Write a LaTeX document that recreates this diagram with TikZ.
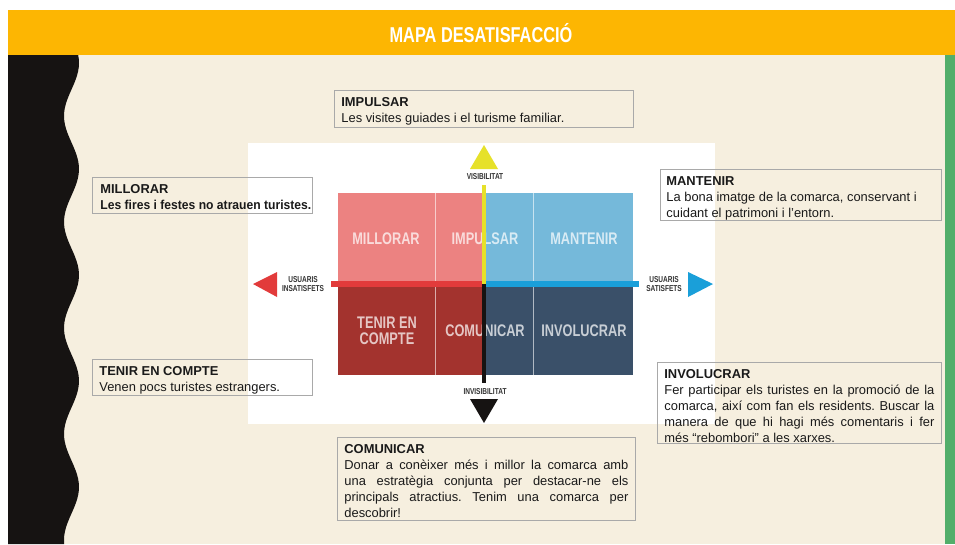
\documentclass[tikz,border=0pt]{standalone}
\usepackage{fontspec}
\setmainfont{Liberation Sans}
\newfontfamily\condfont[FakeStretch=0.76]{Liberation Sans}
\newfontfamily\narrowfont[FakeStretch=0.94]{Liberation Sans}
\usetikzlibrary{positioning}
\frenchspacing

\newcommand{\fillline}[1]{\makebox[\linewidth][s]{\spaceskip=0pt\relax #1}}
\newcommand{\boxbody}[3]{\parbox[t][#1][t]{#2}{\raggedright\rule{0pt}{16.5pt}#3}}

\tikzset{
  infobox/.style={draw=boxGrey, line width=0.8pt, anchor=north west, inner xsep=7pt, inner ysep=0pt,
    text=inkDark, font=\fontsize{12.9}{16}\selectfont},
  celllabel/.style={text=white, text opacity=0.72, align=center, inner sep=0pt,
    font=\condfont\bfseries\fontsize{16.8}{16.5}\selectfont},
  axislabel/.style={text=axisInk, align=center, inner sep=0pt,
    font=\condfont\bfseries\fontsize{8.6}{8.6}\selectfont},
  axisline/.style={line width=5.5pt},
}

\begin{document}
\begin{tikzpicture}[x=1pt,y=-1pt]
\definecolor{bannerYellow}{HTML}{FDB602}
\definecolor{paperCream}{HTML}{F6EFDF}
\definecolor{stripGreen}{HTML}{52AE6A}
\definecolor{stripBlack}{HTML}{161312}
\definecolor{boxGrey}{HTML}{A9A9A9}
\definecolor{inkDark}{HTML}{1A1A1A}
\definecolor{axisInk}{HTML}{333333}
\definecolor{cellPink}{HTML}{EC8281}
\definecolor{cellRed}{HTML}{A3332E}
\definecolor{cellSky}{HTML}{75B9DA}
\definecolor{cellNavy}{HTML}{3A5069}
\definecolor{visYellow}{HTML}{E6E12A}
\definecolor{lowRed}{HTML}{E23B3B}
\definecolor{highBlue}{HTML}{1A9FD9}
\useasboundingbox (0,0) rectangle (955,544);
\fill[white] (0,0) rectangle (955,544);
\fill[paperCream] (8,55) rectangle (945,544);
\fill[bannerYellow] (8,10) rectangle (955,55);
\fill[stripGreen] (945,55) rectangle (955,544);
\fill[stripBlack] (8,55) -- plot[variable=\t,domain=55:544,samples=120,smooth]
  ({71.5+7.5*cos(3.3962*(\t-63))},\t) -- (8,544) -- cycle;
\node[text=white, font=\condfont\bfseries\fontsize{21.5}{21}\selectfont] (title) at (481,33) {MAPA DESATISFACCIÓ};

\fill[white] (248,143) rectangle (715,424);
\foreach \xa/\xb/\ya/\yb/\col in {338/435/193/284/cellPink,435/484/193/284/cellPink,
    484/533/193/284/cellSky,533/633/193/284/cellSky,
    338/435/284/375/cellRed,435/484/284/375/cellRed,
    484/533/284/375/cellNavy,533/633/284/375/cellNavy} {
  \fill[\col] (\xa,\ya) rectangle (\xb,\yb);
}
\foreach \x in {435,533} {
  \draw[white, opacity=0.6, line width=1pt] (\x,193) -- (\x,375);
}
\node[celllabel] (cMillorar) at (386,239) {MILLORAR};
\node[celllabel] (cImpulsar) at (485,239) {IMPULSAR};
\node[celllabel] (cMantenir) at (584,239) {MANTENIR};
\node[celllabel] (cTenir) at (387,331) {TENIR EN\\COMPTE};
\node[celllabel] (cComunicar) at (485,331) {COMUNICAR};
\node[celllabel] (cInvolucrar) at (584,331) {INVOLUCRAR};

\coordinate (origin) at (484,284);
\coordinate (visEnd) at (484,185);
\coordinate (invisEnd) at (484,383);
\coordinate (lowEnd) at (331,284);
\coordinate (highEnd) at (639,284);
\draw[axisline, lowRed] (origin) -- (lowEnd);
\draw[axisline, highBlue] (origin) -- (highEnd);
\draw[axisline, visYellow, line width=4.5pt] (origin) -- (visEnd);
\draw[axisline, stripBlack, line width=4.5pt] (origin) -- (invisEnd);
\fill[visYellow] (484,145) -- (498,169) -- (470,169) -- cycle;
\fill[stripBlack] (484,423) -- (498,399) -- (470,399) -- cycle;
\fill[lowRed] (253,284) -- (277,272) -- (277,297) -- cycle;
\fill[highBlue] (713,284) -- (688,272) -- (688,297) -- cycle;
\node[axislabel] (visLabel) at (485,177) {VISIBILITAT};
\node[axislabel] (invisLabel) at (485,392) {INVISIBILITAT};
\node[axislabel] (lowLabel) at (303,284) {USUARIS\\INSATISFETS};
\node[axislabel] (highLabel) at (664,284) {USUARIS\\SATISFETS};

\node[infobox] (bImpulsar) at (334,90)
  {\boxbody{37pt}{285pt}{\textbf{IMPULSAR}\\Les visites guiades i el turisme familiar.}};
\node[infobox, inner xsep=8pt] (bMillorar) at (92,177)
  {\boxbody{36pt}{204pt}{\textbf{MILLORAR}\\\makebox[\linewidth][l]{\narrowfont\bfseries Les fires i festes no atrauen turistes.}}};
\node[infobox, inner xsep=6pt] (bMantenir) at (660,169)
  {\boxbody{51pt}{269pt}{\textbf{MANTENIR}\\La bona imatge de la comarca, conservant i\\cuidant el patrimoni i l’entorn.}};
\node[infobox, inner xsep=7pt] (bTenir) at (92,359)
  {\boxbody{36pt}{206pt}{\textbf{TENIR EN COMPTE}\\Venen pocs turistes estrangers.}};
\node[infobox, inner xsep=7pt] (bInvolucrar) at (657,362)
  {\boxbody{81pt}{270pt}{\textbf{INVOLUCRAR}\\\fillline{Fer participar els turistes en la promoció de la}\\
   \fillline{comarca, així com fan els residents. Buscar la}\\
   \fillline{manera de que hi hagi més comentaris i fer}\\
   més “rebombori” a les xarxes.}};
\node[infobox] (bComunicar) at (337,437)
  {\boxbody{83pt}{284pt}{\textbf{COMUNICAR}\\\fillline{Donar a conèixer més i millor la comarca amb}\\
   \fillline{una estratègia conjunta per destacar-ne els}\\
   \fillline{principals atractius. Tenim una comarca per}\\
   descobrir!}};
\end{tikzpicture}
\end{document}
